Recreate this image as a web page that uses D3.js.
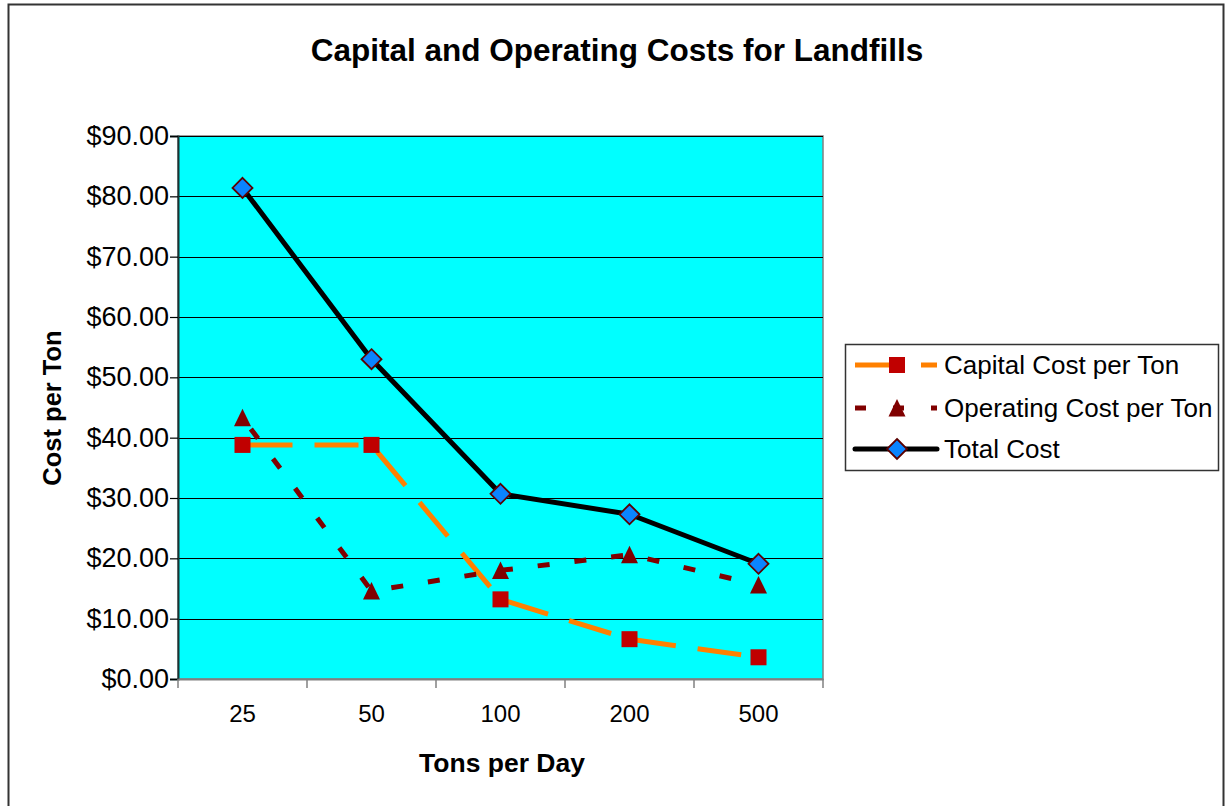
<!DOCTYPE html>
<html>
<head>
<meta charset="utf-8">
<script src="https://cdn.jsdelivr.net/npm/d3@7/dist/d3.min.js"></script>
<style>
  html, body { margin: 0; padding: 0; background: #fff; }
  svg { display: block; font-family: Arial, "Liberation Sans", sans-serif; }
</style>
</head>
<body>
<svg id="chart" width="1225" height="806"></svg>
<script>
// Landfill cost per ton by facility size (tons per day)
const categories = ["25", "50", "100", "200", "500"];
const capitalCost = [38.8, 38.8, 13.2, 6.6, 3.6];
const operatingCost = [43.3, 14.6, 18.0, 20.6, 15.6];
const totalCost = [81.4, 53.0, 30.7, 27.3, 19.1];
const yTicks = [0, 10, 20, 30, 40, 50, 60, 70, 80, 90];

const svg = d3.select("#chart");
const plot = { left: 178, right: 823, top: 136, bottom: 679 };
const FONT = "Arial, 'Liberation Sans', sans-serif";

// Outer chart frame
svg.append("rect")
  .attr("x", 8.5).attr("y", 4.5)
  .attr("width", 1215).attr("height", 830)
  .attr("fill", "#fff").attr("stroke", "#333").attr("stroke-width", 2);

const x = d3.scaleBand().domain(categories).range([plot.left, plot.right]);
const y = d3.scaleLinear().domain([0, 90]).range([plot.bottom, plot.top]);
const cx = d => x(d) + x.bandwidth() / 2;

// Plot background
svg.append("rect")
  .attr("x", plot.left).attr("y", plot.top)
  .attr("width", plot.right - plot.left).attr("height", plot.bottom - plot.top)
  .attr("fill", "#00FFFF").attr("stroke", "#808080").attr("stroke-width", 1.5);

// Horizontal gridlines
svg.append("g").selectAll("line").data(yTicks.filter(t => t > 0)).join("line")
  .attr("x1", plot.left).attr("x2", plot.right)
  .attr("y1", d => Math.round(y(d)) + 0.5).attr("y2", d => Math.round(y(d)) + 0.5)
  .attr("stroke", "#000").attr("stroke-width", 1.2);

// Y axis
const yAxis = svg.append("g")
  .attr("transform", `translate(${plot.left},0)`)
  .call(d3.axisLeft(y).tickValues(yTicks).tickSize(8).tickPadding(1)
    .tickFormat(d => "$" + d3.format(".2f")(d)));
yAxis.select(".domain").attr("stroke", "#1a3333").attr("stroke-width", 2);
yAxis.selectAll(".tick line").attr("stroke", "#000").attr("stroke-width", 1.2);
yAxis.selectAll("text").attr("font-size", 27).attr("fill", "#000").attr("font-family", FONT);

// X axis with boundary ticks between categories
const xAxis = svg.append("g")
  .attr("transform", `translate(0,${plot.bottom})`)
  .call(d3.axisBottom(x).tickSize(0).tickPadding(26));
xAxis.select(".domain").attr("stroke", "#808080").attr("stroke-width", 2);
xAxis.selectAll("text").attr("font-size", 24).attr("fill", "#000").attr("font-family", FONT);
const boundaries = categories.map(c => x(c)).concat([plot.right]);
xAxis.append("g").selectAll("line").data(boundaries).join("line")
  .attr("x1", d => d).attr("x2", d => d).attr("y1", 0).attr("y2", 9)
  .attr("stroke", "#808080").attr("stroke-width", 1.5);

// Series lines
const line = vals => d3.line().x((d, i) => cx(categories[i])).y(d => y(d))(vals);

svg.append("path").attr("d", line(capitalCost))
  .attr("fill", "none").attr("stroke", "#FF8000").attr("stroke-width", 5)
  .attr("stroke-dasharray", "44 22").attr("stroke-dashoffset", -6);
svg.append("path").attr("d", line(operatingCost))
  .attr("fill", "none").attr("stroke", "#800000").attr("stroke-width", 5)
  .attr("stroke-dasharray", "12 25").attr("stroke-dashoffset", -14);
svg.append("path").attr("d", line(totalCost))
  .attr("fill", "none").attr("stroke", "#000").attr("stroke-width", 5)
  .attr("stroke-linejoin", "round");

// Markers
const square = (g, px, py) => g.append("rect")
  .attr("x", px - 8).attr("y", py - 8).attr("width", 16).attr("height", 16)
  .attr("fill", "#C00000");
const triangle = (g, px, py) => g.append("path")
  .attr("d", `M${px},${py - 9}L${px + 8.5},${py + 8.5}L${px - 8.5},${py + 8.5}Z`)
  .attr("fill", "#800000");
const diamond = (g, px, py) => g.append("path")
  .attr("d", `M${px},${py - 10}L${px + 10},${py}L${px},${py + 10}L${px - 10},${py}Z`)
  .attr("fill", "#0A84FF").attr("stroke", "#5a0000").attr("stroke-width", 1.8);

const markers = svg.append("g");
capitalCost.forEach((v, i) => square(markers, cx(categories[i]), y(v)));
operatingCost.forEach((v, i) => triangle(markers, cx(categories[i]), y(v)));
totalCost.forEach((v, i) => diamond(markers, cx(categories[i]), y(v)));

// Titles
svg.append("text").attr("x", 617).attr("y", 61).attr("text-anchor", "middle")
  .attr("font-size", 31.5).attr("font-weight", "bold").text("Capital and Operating Costs for Landfills");
svg.append("text").attr("x", 502).attr("y", 772).attr("text-anchor", "middle")
  .attr("font-size", 26.5).attr("font-weight", "bold").text("Tons per Day");
svg.append("text").attr("transform", "translate(61,408) rotate(-90)").attr("text-anchor", "middle")
  .attr("font-size", 25.5).attr("font-weight", "bold").text("Cost per Ton");

// Legend
const legend = svg.append("g");
legend.append("rect").attr("x", 845.5).attr("y", 344.5).attr("width", 373).attr("height", 126)
  .attr("fill", "#fff").attr("stroke", "#333").attr("stroke-width", 1.5);
const legendItems = [
  { name: "Capital Cost per Ton", y: 365, stroke: "#FF8000", dash: "43 23", marker: square },
  { name: "Operating Cost per Ton", y: 408, stroke: "#800000", dash: "11 27", marker: triangle },
  { name: "Total Cost", y: 449, stroke: "#000", dash: null, marker: diamond }
];
legendItems.forEach(it => {
  const l = legend.append("line").attr("x1", 855).attr("x2", 937)
    .attr("y1", it.y).attr("y2", it.y)
    .attr("stroke", it.stroke).attr("stroke-width", 5);
  if (it.dash) l.attr("stroke-dasharray", it.dash);
  else l.attr("stroke-linecap", "round");
  it.marker(legend, 897, it.y);
  legend.append("text").attr("x", 944).attr("y", it.y + 9)
    .attr("font-size", 26).text(it.name);
});
</script>
</body>
</html>
